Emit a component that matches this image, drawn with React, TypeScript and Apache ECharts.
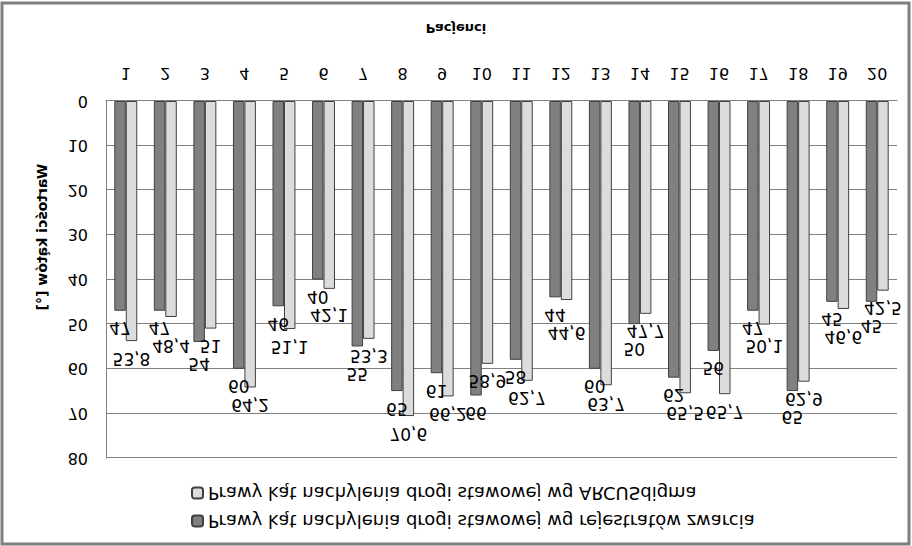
import React, { useEffect, useRef } from "react";
import * as echarts from "echarts";

// pacjenci 1..20
const patients = ["1", "2", "3", "4", "5", "6", "7", "8", "9", "10", "11", "12", "13", "14", "15", "16", "17", "18", "19", "20"];

// kąt wg rejestratów zwarcia
const rejestrator = [47, 47, 54, 60, 46, 40, 55, 65, 61, 66, 58, 44, 60, 50, 62, 56, 47, 65, 45, 45];

// kąt wg ARCUSdigma
const arcus = [53.8, 48.4, 51, 64.2, 51.1, 42.1, 53.3, 70.6, 66.2, 58.9, 62.7, 44.6, 63.7, 47.7, 65.5, 65.7, 50.1, 62.9, 46.6, 42.5];

const seriesNames = [
  "Prawy kąt nachylenia drogi stawowej wg rejestratów zwarcia",
  "Prawy kąt nachylenia drogi stawowej wg ARCUSdigma",
];

const FONT = "DejaVu Sans";
const LABEL_DIST = 9;

const App = () => {
  const chartRef = useRef(null);

  useEffect(() => {
    document.body.style.margin = "0";
    const chart = echarts.init(chartRef.current, null, { renderer: "svg" });

    // etykieta wyższego słupka idzie wyżej, gdy nachodzi na etykietę niższego
    const avoidOverlap = (params) => {
      const i = params.dataIndex;
      const own = params.seriesIndex === 0 ? rejestrator[i] : arcus[i];
      const other = params.seriesIndex === 0 ? arcus[i] : rejestrator[i];
      if (own <= other) return {};
      const r = params.labelRect;
      const yOther = chart.convertToPixel({ yAxisIndex: 0 }, other);
      const otherTop = yOther - LABEL_DIST - r.height;
      const bottom = r.y + r.height;
      if (bottom > otherTop - 1) return { dy: otherTop - 1 - bottom };
      return {};
    };

    const label = {
      show: true,
      position: "top",
      distance: LABEL_DIST,
      color: "#000",
      fontFamily: FONT,
      fontSize: 17,
      formatter: (p) => String(p.value).replace(".", ","),
    };

    const option = {
      animation: false,
      backgroundColor: "#fff",
      textStyle: { fontFamily: FONT },
      legend: {
        orient: "vertical",
        left: 191,
        top: 16,
        padding: 0,
        itemWidth: 11,
        itemHeight: 11,
        itemGap: 10,
        textStyle: { fontFamily: FONT, fontSize: 18, color: "#000", lineHeight: 18 },
        data: seriesNames,
      },
      grid: { left: 106, right: 15, top: 88, bottom: 101 },
      xAxis: {
        type: "category",
        data: patients,
        axisLine: { lineStyle: { color: "#808080", width: 1 } },
        axisTick: { show: false },
        axisLabel: { margin: 20, color: "#000", fontFamily: FONT, fontSize: 16 },
      },
      yAxis: {
        type: "value",
        min: 0,
        max: 80,
        interval: 10,
        axisLine: { show: true, lineStyle: { color: "#808080", width: 1 } },
        axisTick: { show: false },
        axisLabel: { margin: 18, color: "#000", fontFamily: FONT, fontSize: 16 },
        splitLine: { lineStyle: { color: "#808080", width: 1 } },
      },
      graphic: [
        {
          type: "rect",
          shape: { x: 2, y: 2, width: 907, height: 541 },
          style: { fill: "none", stroke: "#7f7f7f", lineWidth: 3 },
        },
        {
          type: "text",
          x: 456,
          y: 518,
          style: {
            text: "Pacjenci",
            font: `bold 13px "${FONT}"`,
            fill: "#000",
            textAlign: "center",
            textVerticalAlign: "middle",
          },
        },
        {
          type: "text",
          x: 42,
          y: 309,
          rotation: Math.PI / 2,
          style: {
            text: "Wartości kątów [°]",
            font: `bold 14px "${FONT}"`,
            fill: "#000",
            textAlign: "center",
            textVerticalAlign: "middle",
          },
        },
      ],
      series: [
        {
          name: seriesNames[0],
          type: "bar",
          data: rejestrator,
          barGap: "0%",
          barCategoryGap: "42%",
          itemStyle: { color: "#808080", borderColor: "#404040", borderWidth: 1 },
          label: { ...label, offset: [-5, 0] },
          labelLayout: avoidOverlap,
        },
        {
          name: seriesNames[1],
          type: "bar",
          data: arcus,
          barGap: "0%",
          barCategoryGap: "42%",
          itemStyle: { color: "#dcdcdc", borderColor: "#404040", borderWidth: 1 },
          label,
          labelLayout: avoidOverlap,
        },
      ],
    };

    chart.setOption(option);

    return () => {
      chart.dispose();
    };
  }, []);

  // obraz odwrócony w pionie, jak w oryginale
  return (
    <div
      ref={chartRef}
      style={{ width: "912px", height: "546px", transform: "scaleY(-1)" }}
    ></div>
  );
};

export default App;
